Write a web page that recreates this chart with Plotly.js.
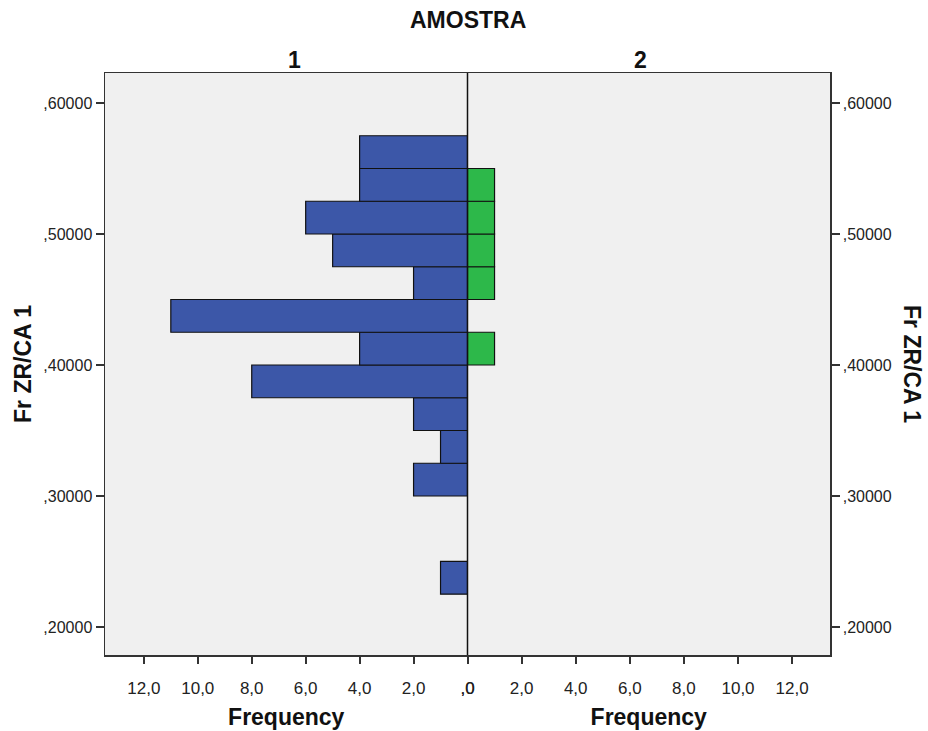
<!DOCTYPE html>
<html><head><meta charset="utf-8">
<script src="https://cdn.plot.ly/plotly-3.0.1.min.js"></script>
<style>body{margin:0;background:#fff}</style>
</head><body><div id="chart" style="width:928px;height:731px"></div>
<script>
// Bin lower edges (Fr ZR/CA 1), width 0.025
const binStarts = [0.225, 0.300, 0.325, 0.350, 0.375, 0.400, 0.425, 0.450, 0.475, 0.500, 0.525, 0.550];
const binWidth = 0.025;
const freqAmostra1 = [1, 2, 1, 2, 8, 4, 11, 2, 5, 6, 4, 4];
const freqAmostra2 = [0, 0, 0, 0, 0, 1, 0, 1, 1, 1, 1, 0];
const yTickVals = [0.2, 0.3, 0.4, 0.5, 0.6];
const yTickText = [',20000', ',30000', ',40000', ',50000', ',60000'];
const xTickVals = [0, 2, 4, 6, 8, 10, 12];
const xTickText = [',0', '2,0', '4,0', '6,0', '8,0', '10,0', '12,0'];

const centers = binStarts.map(b => b + binWidth / 2);
const font = 'Liberation Sans, Arial, sans-serif';

const t1 = {type: 'bar', orientation: 'h', y: centers, x: freqAmostra1, width: binWidth,
  marker: {color: '#3c57a8', line: {color: '#111', width: 1.2}}, xaxis: 'x', yaxis: 'y', hoverinfo: 'x+y'};
const idx2 = freqAmostra2.map((v, i) => i).filter(i => freqAmostra2[i] > 0);
const t2 = {type: 'bar', orientation: 'h', y: idx2.map(i => centers[i]), x: idx2.map(i => freqAmostra2[i]), width: binWidth,
  marker: {color: '#2db84a', line: {color: '#111', width: 1.2}}, xaxis: 'x2', yaxis: 'y2', hoverinfo: 'x+y'};

const titleFont = {family: font, size: 23, color: '#111'};
const xCommon = {tickvals: xTickVals, ticktext: xTickText, ticks: 'outside', ticklen: 7, tickwidth: 2, tickcolor: '#333',
  showgrid: false, zeroline: false, showline: true, linecolor: '#333', linewidth: 1.5, mirror: true,
  tickfont: {family: font, size: 17, color: '#222'}, ticklabelstandoff: 10,
  title: {text: '<b>Frequency</b>', font: titleFont, standoff: 12}, fixedrange: true};
const yCommon = {range: [0.1786, 0.6229], tickvals: yTickVals, ticktext: yTickText, ticks: 'outside', ticklen: 8, tickwidth: 2,
  tickcolor: '#333', showgrid: false, zeroline: false, showline: true, linecolor: '#333', linewidth: 1.5,
  tickfont: {family: font, size: 16, color: '#222'}, fixedrange: true};

const layout = {
  width: 928, height: 731, showlegend: false, bargap: 0,
  paper_bgcolor: '#ffffff', plot_bgcolor: '#f0f0f0',
  margin: {l: 105, r: 98, t: 73, b: 76},
  xaxis: Object.assign({}, xCommon, {domain: [0, 0.5], range: [13.44, 0], anchor: 'y'}),
  xaxis2: Object.assign({}, xCommon, {domain: [0.5, 1], range: [0, 13.4], anchor: 'y2'}),
  yaxis: Object.assign({}, yCommon, {anchor: 'x', side: 'left',
    title: {text: '<b>Fr ZR/CA 1</b>', font: titleFont, standoff: 5}}),
  yaxis2: Object.assign({}, yCommon, {anchor: 'x2', side: 'right', matches: 'y'}),
  shapes: [
    {type: 'rect', xref: 'paper', yref: 'paper', x0: 0.5, x1: 1, y0: 0, y1: 1, fillcolor: '#f0f0f0', line: {width: 0}, layer: 'below'},
    {type: 'line', xref: 'paper', yref: 'paper', x0: 0.5, x1: 0.5, y0: 0, y1: 1, line: {color: '#111', width: 1.5}, layer: 'above'}
  ],
  annotations: [
    {text: '<b>AMOSTRA</b>', xref: 'paper', yref: 'paper', x: 0.5, y: 1, yanchor: 'middle', yshift: 53, showarrow: false,
      font: titleFont},
    {text: '<b>1</b>', xref: 'paper', yref: 'paper', x: 0.25, y: 1, yanchor: 'middle', yshift: 13, showarrow: false,
      font: titleFont},
    {text: '<b>2</b>', xref: 'paper', yref: 'paper', x: 0.75, y: 1, yanchor: 'middle', yshift: 13, showarrow: false,
      font: titleFont},
    {text: '<b>Fr ZR/CA 1</b>', xref: 'paper', yref: 'paper', x: 1, xanchor: 'center', xshift: 82, y: 0.5, textangle: 90, showarrow: false,
      font: titleFont}
  ]
};
Plotly.newPlot('chart', [t1, t2], layout, {displayModeBar: false, staticPlot: true});
</script></body></html>
